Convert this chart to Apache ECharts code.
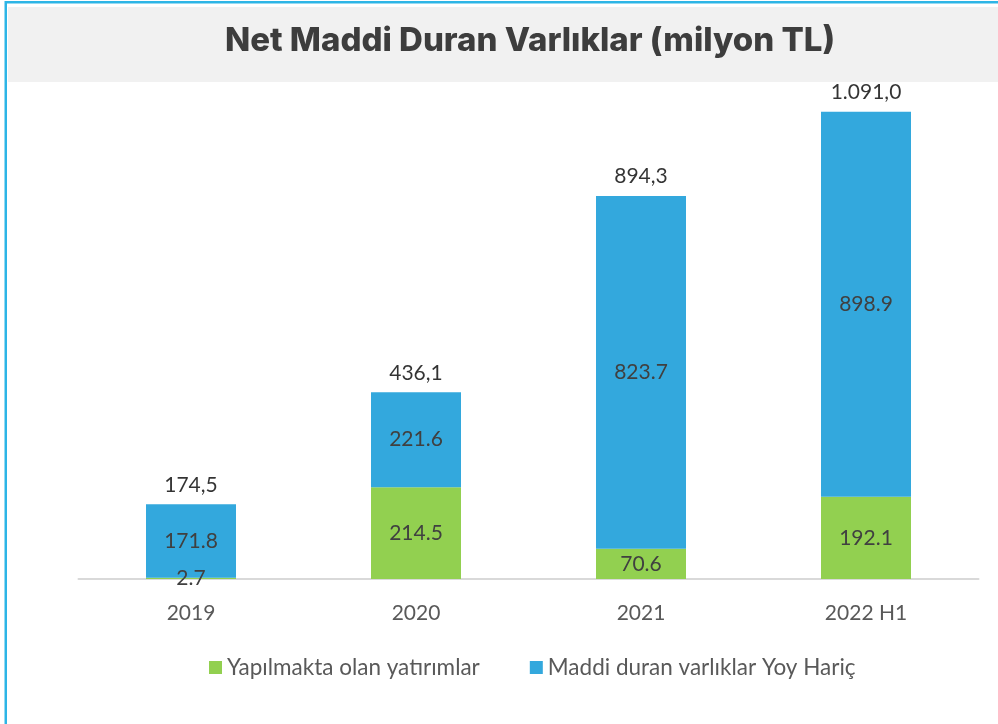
<!DOCTYPE html>
<html>
<head>
<meta charset="utf-8">
<style>
  html, body { margin: 0; padding: 0; background: #ffffff; }
  #chart { width: 998px; height: 724px; }
</style>
<script src="https://cdn.jsdelivr.net/npm/echarts@6/dist/echarts.min.js"></script>
</head>
<body>
<div id="chart"></div>
<script>
// Net fixed assets by period (million TL)
const categories = ['2019', '2020', '2021', '2022 H1'];
const constructionInProgress = [2.7, 214.5, 70.6, 192.1];
const fixedAssetsExclYoy = [171.8, 221.6, 823.7, 898.9];
const seriesNames = ['Yapılmakta olan yatırımlar', 'Maddi duran varlıklar Yoy Hariç'];
const titleText = 'Net Maddi Duran Varlıklar (milyon TL)';

// Totals on top of each stack, shown in Turkish number format
const totals = categories.map((_, i) => Math.round((constructionInProgress[i] + fixedAssetsExclYoy[i]) * 10) / 10);
function formatTR(v) {
  const parts = v.toFixed(1).split('.');
  const intPart = parts[0].replace(/\B(?=(\d{3})+(?!\d))/g, '.');
  return intPart + ',' + parts[1];
}

const chart = echarts.init(document.getElementById('chart'), null, { renderer: 'canvas' });
const labelFont = 'Lato, "Open Sans", sans-serif';

chart.setOption({
  animation: false,
  backgroundColor: '#ffffff',
  graphic: [
    { type: 'rect', shape: { x: 8, y: 7, width: 990, height: 75 }, style: { fill: '#f1f1f1' }, silent: true },
    { type: 'rect', shape: { x: 5, y: 1, width: 993, height: 2.5 }, style: { fill: '#2db5e6' }, silent: true },
    { type: 'rect', shape: { x: 4.5, y: 1, width: 2.5, height: 723 }, style: { fill: '#2db5e6' }, silent: true },
    {
      type: 'text', x: 530, y: 41,
      style: {
        text: titleText,
        fill: '#3d3d3d',
        font: '800 33px Inter, "Noto Sans", sans-serif',
        textAlign: 'center',
        textVerticalAlign: 'middle'
      },
      silent: true
    }
  ],
  legend: {
    data: seriesNames,
    top: 651,
    left: 204,
    itemWidth: 13,
    itemHeight: 13,
    itemGap: 50,
    icon: 'rect',
    textStyle: { color: '#595959', fontSize: 22.5, fontFamily: labelFont }
  },
  grid: { left: 78.5, right: 19.5, top: 108, bottom: 145 },
  xAxis: {
    type: 'category',
    data: categories,
    axisTick: { show: false },
    axisLine: { lineStyle: { color: '#d9d9d9', width: 2 } },
    axisLabel: { color: '#595959', fontSize: 21, fontFamily: labelFont, margin: 24 }
  },
  yAxis: {
    type: 'value',
    min: 0,
    max: 1100,
    show: false,
    splitLine: { show: false }
  },
  series: [
    {
      name: seriesNames[0],
      type: 'bar',
      stack: 'total',
      barWidth: '40%',
      data: constructionInProgress,
      itemStyle: { color: '#92d050' },
      label: {
        show: true, position: 'inside', color: '#404040',
        fontSize: 21, fontFamily: labelFont,
        formatter: p => p.value.toFixed(1)
      }
    },
    {
      name: seriesNames[1],
      type: 'bar',
      stack: 'total',
      barWidth: '40%',
      data: fixedAssetsExclYoy,
      itemStyle: { color: '#33a8dd' },
      label: {
        show: true, position: 'inside', color: '#404040',
        fontSize: 21, fontFamily: labelFont,
        formatter: p => p.value.toFixed(1)
      }
    },
    {
      name: 'Toplam',
      type: 'scatter',
      data: totals,
      symbolSize: 0,
      silent: true,
      label: {
        show: true, position: 'top', distance: 9, color: '#000000',
        fontSize: 21, fontFamily: labelFont,
        formatter: p => formatTR(p.value)
      }
    }
  ]
});
</script>
</body>
</html>
